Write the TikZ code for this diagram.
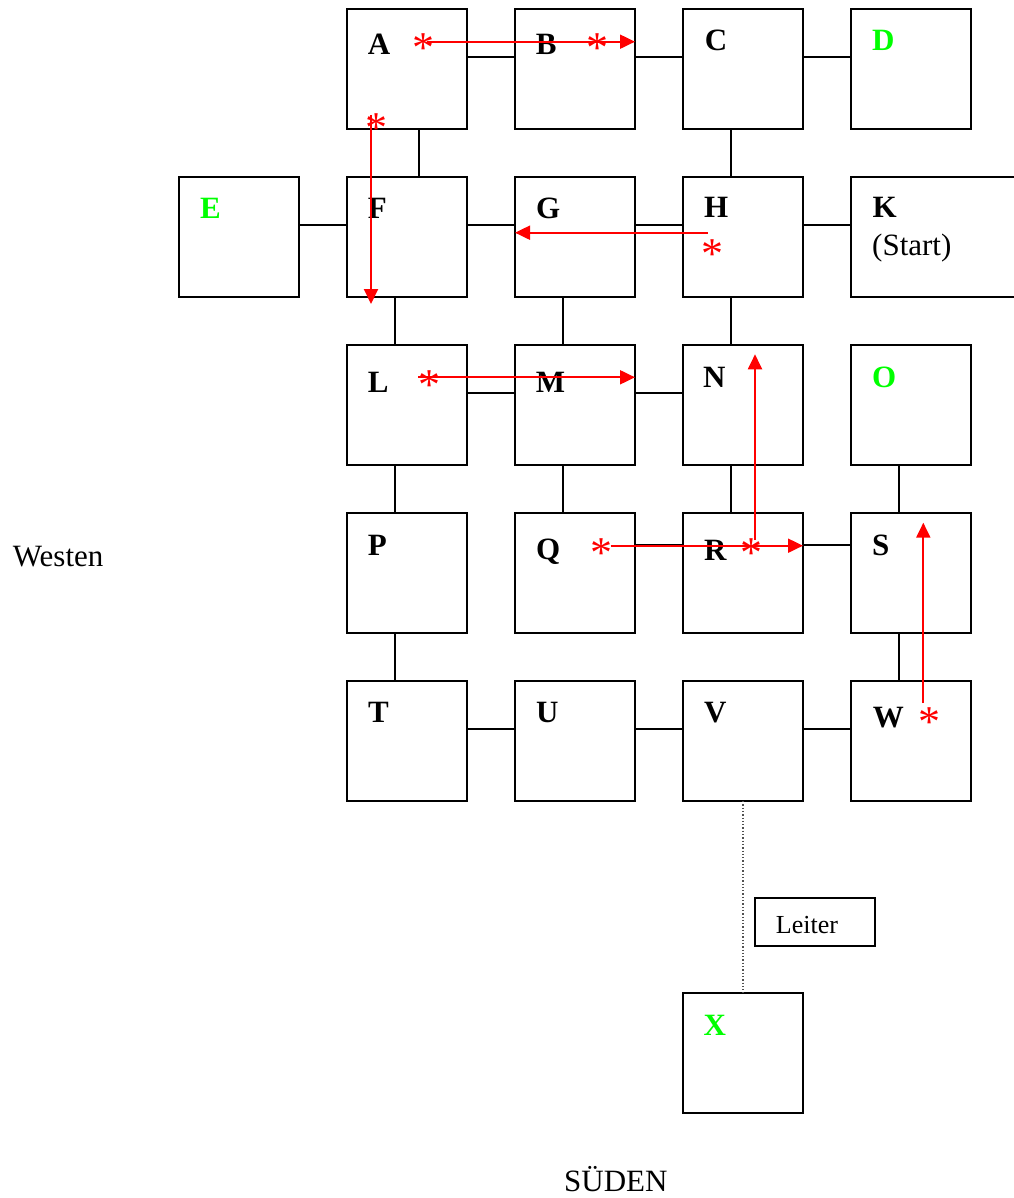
\documentclass[tikz,border=0pt]{standalone}
\usepackage{fontspec}
\setmainfont{Liberation Serif}
\usetikzlibrary{arrows.meta}
\definecolor{lgreen}{RGB}{0,255,0}
\definecolor{dotgray}{RGB}{80,80,80}
\begin{document}
\begin{tikzpicture}[x=1pt,y=-1pt,
 room/.style={draw, line width=2pt, minimum width=120pt, minimum height=120pt, inner sep=0pt, outer sep=0pt},
 lbl/.style={anchor=base west, inner sep=0pt, font=\fontsize{31}{37}\selectfont\bfseries},
 glbl/.style={lbl, text=lgreen},
 txt/.style={anchor=base west, inner sep=0pt, font=\fontsize{31}{37}\selectfont},
 link/.style={line width=2pt},
 ladder/.style={draw=dotgray, line width=1.3pt, dotted},
 redarr/.style={draw=red, line width=2pt, -{Triangle[length=15pt,width=14pt]}},
 starmark/.style={anchor=base, inner sep=0pt, text=red, font=\fontsize{44}{50}\selectfont},
]
\useasboundingbox (0,0) rectangle (1013,1198);

% rooms
\node[room] (A) at (407,69) {};
\node[room] (B) at (575,69) {};
\node[room] (C) at (743,69) {};
\node[room] (D) at (911,69) {};
\node[room] (E) at (239,237) {};
\node[room] (F) at (407,237) {};
\node[room] (G) at (575,237) {};
\node[room] (H) at (743,237) {};
\node[room, minimum width=180pt] (K) at (941,237) {};
\node[room] (L) at (407,405) {};
\node[room] (M) at (575,405) {};
\node[room] (N) at (743,405) {};
\node[room] (O) at (911,405) {};
\node[room] (P) at (407,573) {};
\node[room] (Q) at (575,573) {};
\node[room] (R) at (743,573) {};
\node[room] (S) at (911,573) {};
\node[room] (T) at (407,741) {};
\node[room] (U) at (575,741) {};
\node[room] (V) at (743,741) {};
\node[room] (W) at (911,741) {};
\node[room] (X) at (743,1053) {};
\node[draw, line width=2pt, minimum width=120pt, minimum height=48pt, inner sep=0pt, outer sep=0pt] (Lt) at (815,922) {};

% horizontal links
\foreach \a/\b/\d in {A/B/48,B/C/48,C/D/48,E/F/48,F/G/48,G/H/48,H/K/48,L/M/48,M/N/48,Q/R/32,R/S/32,T/U/48,U/V/48,V/W/48}
  \draw[link] ([yshift=-\d pt]\a.north east) -- ([yshift=-\d pt]\b.north west);
% vertical links
\foreach \a/\b/\d in {A/F/72,C/H/48,F/L/48,G/M/48,H/N/48,L/P/48,M/Q/48,N/R/48,O/S/48,P/T/48,S/W/48}
  \draw[link] ([xshift=\d pt]\a.south west) -- ([xshift=\d pt]\b.north west);
% ladder
\draw[ladder] (V.south) -- (X.north);

% labels
\node[lbl]  (tA) at (367.7,55) {A};
\node[lbl]  (tB) at (535.7,55) {B};
\node[lbl]  (tC) at (704.7,51) {C};
\node[glbl] (tD) at (872,51) {D};
\node[glbl] (tE) at (200,219) {E};
\node[lbl]  (tF) at (367.7,219) {F};
\node[lbl]  (tG) at (536,219) {G};
\node[lbl]  (tH) at (704,218) {H};
\node[lbl]  (tK) at (872.3,218) {K};
\node[txt]  (tStart) at (872,255) {(Start)};
\node[lbl]  (tL) at (367.7,392) {L};
\node[lbl]  (tM) at (535.7,392) {M};
\node[lbl]  (tN) at (703,387) {N};
\node[glbl] (tO) at (872,387) {O};
\node[lbl]  (tP) at (367.7,555) {P};
\node[lbl]  (tQ) at (536,559) {Q};
\node[lbl]  (tR) at (704,560) {R};
\node[lbl]  (tS) at (872,555) {S};
\node[lbl]  (tT) at (368,722.7) {T};
\node[lbl]  (tU) at (536,722.7) {U};
\node[lbl]  (tV) at (704,722.7) {V};
\node[lbl]  (tW) at (872.7,727.7) {W};
\node[glbl] (tX) at (703.3,1035) {X};
\node[anchor=base west, inner sep=0pt, font=\fontsize{26}{31}\selectfont] (tLeiter) at (775.7,933.3) {Leiter};
\node[txt] (west) at (12.7,566.7) {Westen};
\node[txt] (sued) at (564,1191.7) {SÜDEN};

% path coordinates
\coordinate (p1) at (427,41.7);
\coordinate (p2) at (371,115);
\coordinate (e2) at (371,304);
\coordinate (p3) at (707.7,232.7);
\coordinate (p4) at (418,377.3);
\coordinate (p5) at (610.7,545.7);
\coordinate (p6) at (755,540);
\coordinate (e6) at (755,354.3);
\coordinate (p7) at (923.3,703);
\coordinate (e7) at (923.3,522.7);

% red route
\draw[redarr] (p1) -- (p1 -| B.east);
\draw[redarr] (p2) -- (e2);
\draw[redarr] (p3) -- (p3 -| G.west);
\draw[redarr] (p4) -- (p4 -| M.east);
\draw[redarr] (p5) -- (p5 -| R.east);
\draw[redarr] (p6) -- (e6);
\draw[redarr] (p7) -- (e7);

% stars
\node[starmark] (s1) at (423.5,62.5) {*};
\node[starmark] (s2) at (597.5,62.5) {*};
\node[starmark] (s3) at (376,142.5) {*};
\node[starmark] (s4) at (712.5,268) {*};
\node[starmark] (s5) at (429,399) {*};
\node[starmark] (s6) at (601,567.5) {*};
\node[starmark] (s7) at (751.5,567.5) {*};
\node[starmark] (s8) at (929,736) {*};
\end{tikzpicture}
\end{document}
